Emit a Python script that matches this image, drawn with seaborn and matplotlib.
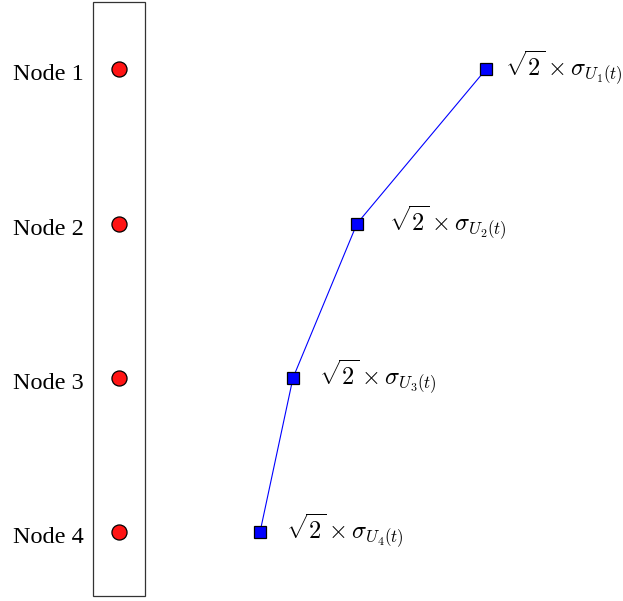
import matplotlib
matplotlib.use("Agg")
import matplotlib.pyplot as plt
import matplotlib.transforms as mtransforms
from matplotlib.patches import Rectangle
import pandas as pd
import seaborn as sns

# Nodes stacked top to bottom and the scaled spread of each node's signal
node_labels = ["Node 1", "Node 2", "Node 3", "Node 4"]
node_index = [1, 2, 3, 4]
spread = [4.86, 3.57, 2.93, 2.60]
spread_labels = [
    r"$\sqrt{2}\times\sigma_{U_1(t)}$",
    r"$\sqrt{2}\times\sigma_{U_2(t)}$",
    r"$\sqrt{2}\times\sigma_{U_3(t)}$",
    r"$\sqrt{2}\times\sigma_{U_4(t)}$",
]

sns.set_theme(style="white")
plt.rcParams["font.family"] = ["Liberation Serif", "DejaVu Serif"]
plt.rcParams["mathtext.fontset"] = "cm"

df = pd.DataFrame({"node": node_labels, "idx": node_index, "spread": spread})
node_x = 1.19
df["node_x"] = node_x

fig = plt.figure(figsize=(6.23, 6.01), dpi=100)
ax = fig.add_axes([0, 0, 1, 1])

# column of nodes inside a frame
trans = mtransforms.blended_transform_factory(ax.transData, ax.transAxes)
ax.add_patch(Rectangle((0.93, 5 / 601), 0.52, 594 / 601, transform=trans,
                       fill=False, edgecolor="#333333", linewidth=0.9, zorder=1))
sns.scatterplot(data=df, x="node_x", y="idx", ax=ax, s=118, color="#ff1414",
                edgecolor="black", linewidth=0.9, zorder=3, legend=False)

# spread curve
sns.lineplot(data=df, x="spread", y="idx", ax=ax, sort=False, color="#0000ff",
             linewidth=0.8, marker="s", markersize=8.8, markerfacecolor="#0000ff",
             markeredgecolor="black", markeredgewidth=0.9, zorder=3)

for name, i in zip(node_labels, node_index):
    ax.annotate(name, xy=(0.93, i), xytext=(-6.5, -8), textcoords="offset points",
                ha="right", va="baseline", fontsize=17.5, color="black")

label_dx = [14, 23, 19, 19]
for s, i, lab, dx in zip(spread, node_index, spread_labels, label_dx):
    ax.annotate(lab, xy=(s, i), xytext=(dx, -5), textcoords="offset points",
                ha="left", va="baseline", fontsize=17.5, color="black")

ax.set_xlim(0, 6.23)
ax.set_ylim(4.446, 0.551)
ax.set_axis_off()

fig.savefig("out.png", dpi=100)
